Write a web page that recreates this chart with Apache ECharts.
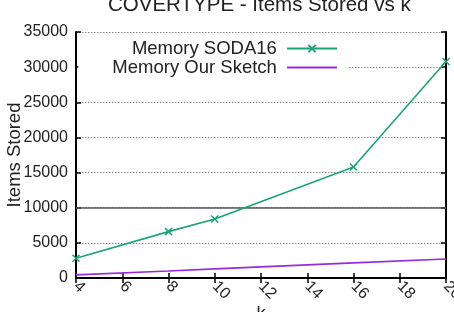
<!DOCTYPE html>
<html>
<head>
<meta charset="utf-8">
<script src="https://cdn.jsdelivr.net/npm/echarts@6/dist/echarts.min.js"></script>
<style>html,body{margin:0;padding:0;background:#fff}#c{width:454px;height:312px}</style>
</head>
<body>
<div id="c"></div>
<script>
const titleText = 'COVERTYPE - Items Stored vs k';
const xName = 'k';
const yName = 'Items Stored';
const seriesNames = ['Memory SODA16', 'Memory Our Sketch'];
const kValues = [4, 8, 10, 16, 20];
const soda16 = [2800, 6600, 8400, 15800, 30800];
const ourSketch = [450, 1000, 1300, 2150, 2700];
const xMin = 4, xMax = 20, xStep = 2;
const yMin = 0, yMax = 35000, yStep = 5000;
const solidGridY = 10000;

const FONT = 'Liberation Sans, Arial, Helvetica, sans-serif';
const toPairs = (xs, ys) => xs.map((x, i) => [x, ys[i]]);
const plain = v => String(v);

const chart = echarts.init(document.getElementById('c'), null, {renderer: 'canvas'});
chart.setOption({
  animation: false,
  backgroundColor: '#fff',
  title: {
    text: titleText, left: 108, top: -5, padding: 0,
    textStyle: {fontFamily: FONT, fontSize: 20.5, fontWeight: 'normal', color: '#222'}
  },
  legend: {
    orient: 'vertical', align: 'right', right: 106, top: 35,
    padding: [4, 10, 4, 34], backgroundColor: '#fff',
    itemWidth: 50, itemHeight: 9, itemGap: 0,
    formatter: n => n + ' ',
    textStyle: {fontFamily: FONT, fontSize: 18.5, color: '#222', lineHeight: 18},
    data: [
      {name: seriesNames[0]},
      {name: seriesNames[1], itemStyle: {color: 'rgba(0,0,0,0)', borderColor: 'rgba(0,0,0,0)', borderWidth: 0}}
    ]
  },
  grid: {left: 76, right: 8, top: 32, bottom: 34, containLabel: false, outerBoundsMode: 'none'},
  xAxis: [{
    type: 'value', min: xMin, max: xMax, interval: xStep,
    name: xName, nameLocation: 'middle', nameGap: 26, nameMoveOverlap: false,
    nameTextStyle: {fontFamily: FONT, fontSize: 18.5, color: '#222'},
    axisLine: {lineStyle: {color: '#000', width: 2}},
    axisTick: {inside: true, length: 5, lineStyle: {color: '#000', width: 1.5}},
    axisLabel: {rotate: -45, margin: 6, hideOverlap: false, fontFamily: FONT, fontSize: 16, color: '#222', formatter: plain},
    splitLine: {show: false}
  }, {
    type: 'value', position: 'top', min: xMin, max: xMax, interval: xStep,
    axisLine: {lineStyle: {color: '#000', width: 2}},
    axisTick: {inside: true, length: 5, lineStyle: {color: '#000', width: 1.5}},
    axisLabel: {show: false}, splitLine: {show: false}
  }],
  yAxis: [{
    type: 'value', min: yMin, max: yMax, interval: yStep,
    name: yName, nameLocation: 'middle', nameGap: 52, nameMoveOverlap: false,
    nameTextStyle: {fontFamily: FONT, fontSize: 18.5, color: '#222'},
    axisLine: {show: true, lineStyle: {color: '#000', width: 2}},
    axisTick: {show: true, inside: true, length: 5, lineStyle: {color: '#000', width: 1.5}},
    axisLabel: {margin: 8, fontFamily: FONT, fontSize: 16, color: '#222', formatter: plain},
    splitLine: {show: true, lineStyle: {color: '#888', width: 1, type: [1.5, 1.5]}}
  }, {
    type: 'value', position: 'right', min: yMin, max: yMax, interval: yStep,
    axisLine: {show: true, lineStyle: {color: '#000', width: 2}},
    axisTick: {show: true, inside: true, length: 5, lineStyle: {color: '#000', width: 1.5}},
    axisLabel: {show: false}, splitLine: {show: false}
  }],
  series: [{
    name: seriesNames[0], type: 'line', data: toPairs(kValues, soda16),
    symbol: 'path://M0,0L10,10M10,0L0,10', symbolSize: 7, showSymbol: true,
    lineStyle: {color: '#1aa37a', width: 1.6},
    itemStyle: {color: '#1aa37a', borderColor: '#1aa37a', borderWidth: 1.5},
    z: 3,
    markLine: {
      silent: true, symbol: 'none', label: {show: false},
      lineStyle: {color: '#555', width: 1.6, type: 'solid'},
      data: [{yAxis: solidGridY}], z: 1
    }
  }, {
    name: seriesNames[1], type: 'line', data: toPairs(kValues, ourSketch),
    symbol: 'none',
    lineStyle: {color: '#9a2ad6', width: 1.6},
    itemStyle: {color: '#9a2ad6'}, z: 3
  }]
});
</script>
</body>
</html>
